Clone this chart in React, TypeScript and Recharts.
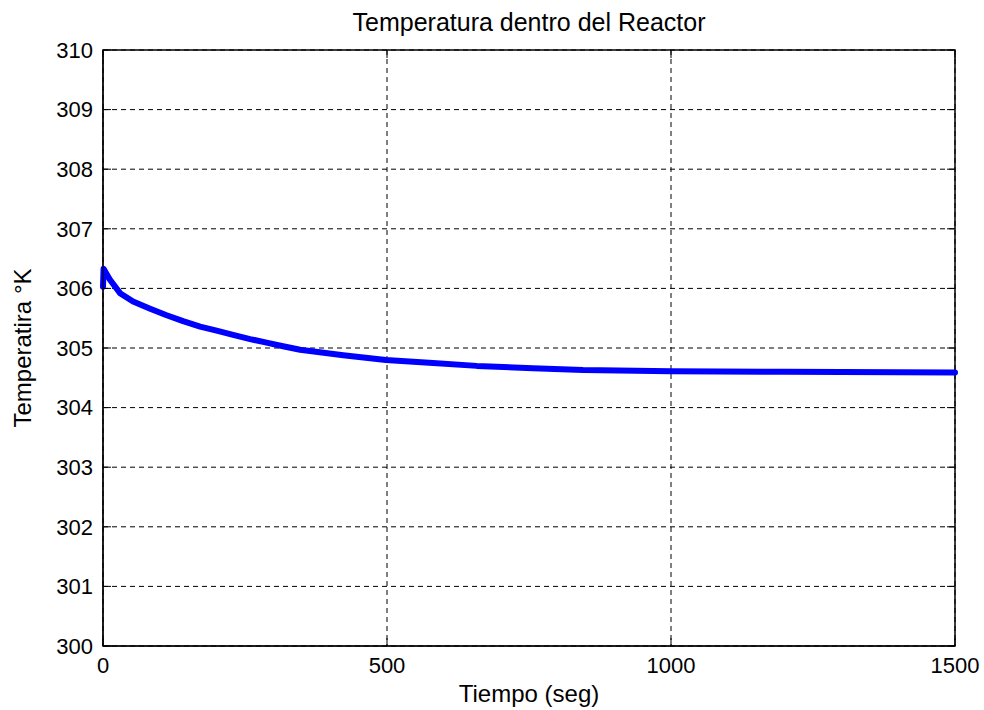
import React from 'react';
import {
  LineChart,
  Line,
  XAxis,
  YAxis,
  CartesianGrid,
  ReferenceArea,
} from 'recharts';

// tiempo (seg) and temperatura (K)
const tiempo = [
  0, 1, 4, 12, 30, 53, 83, 112, 141, 171, 200, 229, 259, 288, 317, 347, 423, 498,
  581, 658, 757, 845, 1000, 1200, 1500,
];
const temperatura = [
  306.03, 306.33, 306.28, 306.15, 305.92, 305.78, 305.66, 305.55, 305.45, 305.36,
  305.29, 305.22, 305.15, 305.09, 305.03, 304.97, 304.88, 304.8, 304.75, 304.7,
  304.66, 304.63, 304.61, 304.6, 304.59,
];
const xTicks = [0, 500, 1000, 1500];
const yTicks = [300, 301, 302, 303, 304, 305, 306, 307, 308, 309, 310];

const data = tiempo.map((t, i) => ({ t, temp: temperatura[i] }));

const W = 984;
const H = 710;
const LEFT = 103;
const RIGHT = 955;
const TOP = 50;
const BOTTOM = 646;
const TICK_LEN = 8;
const FONT = '"Liberation Sans", Arial, sans-serif';

const YTick = (props: any) => {
  const { x, y, payload } = props;
  return (
    <g>
      <line x1={LEFT} x2={LEFT + TICK_LEN} y1={y} y2={y} stroke="#000" />
      <line x1={RIGHT - TICK_LEN} x2={RIGHT} y1={y} y2={y} stroke="#000" />
      <text x={x} y={y} dy="0.355em" textAnchor="end" fontSize={22} fill="#000" fontFamily={FONT}>
        {payload.value}
      </text>
    </g>
  );
};

const XTick = (props: any) => {
  const { x, y, payload } = props;
  return (
    <g>
      <line x1={x} x2={x} y1={BOTTOM - TICK_LEN} y2={BOTTOM} stroke="#000" />
      <line x1={x} x2={x} y1={TOP} y2={TOP + TICK_LEN} stroke="#000" />
      <text x={x} y={y} dy="0.71em" textAnchor="middle" fontSize={22} fill="#000" fontFamily={FONT}>
        {payload.value}
      </text>
    </g>
  );
};

const YLabel = (props: any) => {
  const vb = props.viewBox || {};
  const cx = 22;
  const cy = (vb.y ?? TOP) + (vb.height ?? BOTTOM - TOP) / 2;
  return (
    <text
      x={cx}
      y={cy}
      dy="0.355em"
      textAnchor="middle"
      transform={`rotate(-90, ${cx}, ${cy})`}
      fontSize={24}
      fill="#000"
      fontFamily={FONT}
    >
      Temperatira °K
    </text>
  );
};

export default function App() {
  return (
    <div style={{ position: 'absolute', left: 0, top: 0, width: W, height: H, background: '#fff' }}>
      <div
        style={{
          position: 'absolute',
          left: LEFT,
          width: RIGHT - LEFT,
          top: 8,
          textAlign: 'center',
          fontFamily: FONT,
          fontSize: 25,
          color: '#000',
        }}
      >
        Temperatura dentro del Reactor
      </div>
      <LineChart
        width={W}
        height={H}
        data={data}
        margin={{ top: TOP, right: W - RIGHT, bottom: 0, left: 0 }}
      >
        <CartesianGrid stroke="#000" strokeDasharray="5 4" />
        <XAxis
          dataKey="t"
          type="number"
          domain={[0, 1500]}
          ticks={xTicks}
          tick={<XTick />}
          tickLine={false}
          tickSize={0}
          tickMargin={11}
          height={H - BOTTOM}
          axisLine={{ stroke: '#000' }}
          label={{
            value: 'Tiempo (seg)',
            position: 'insideBottom',
            offset: 8,
            fontSize: 24,
            fill: '#000',
            fontFamily: FONT,
          }}
        />
        <YAxis
          type="number"
          domain={[300, 310]}
          ticks={yTicks}
          tick={<YTick />}
          tickLine={false}
          tickSize={0}
          tickMargin={10}
          width={LEFT}
          axisLine={{ stroke: '#000' }}
          label={<YLabel />}
        />
        <ReferenceArea x1={0} x2={1500} y1={300} y2={310} fill="none" stroke="#000" strokeWidth={1.5} />
        <Line
          type="linear"
          dataKey="temp"
          stroke="#0000ff"
          strokeWidth={6}
          strokeLinejoin="round"
          strokeLinecap="round"
          dot={false}
          isAnimationActive={false}
        />
      </LineChart>
    </div>
  );
}
